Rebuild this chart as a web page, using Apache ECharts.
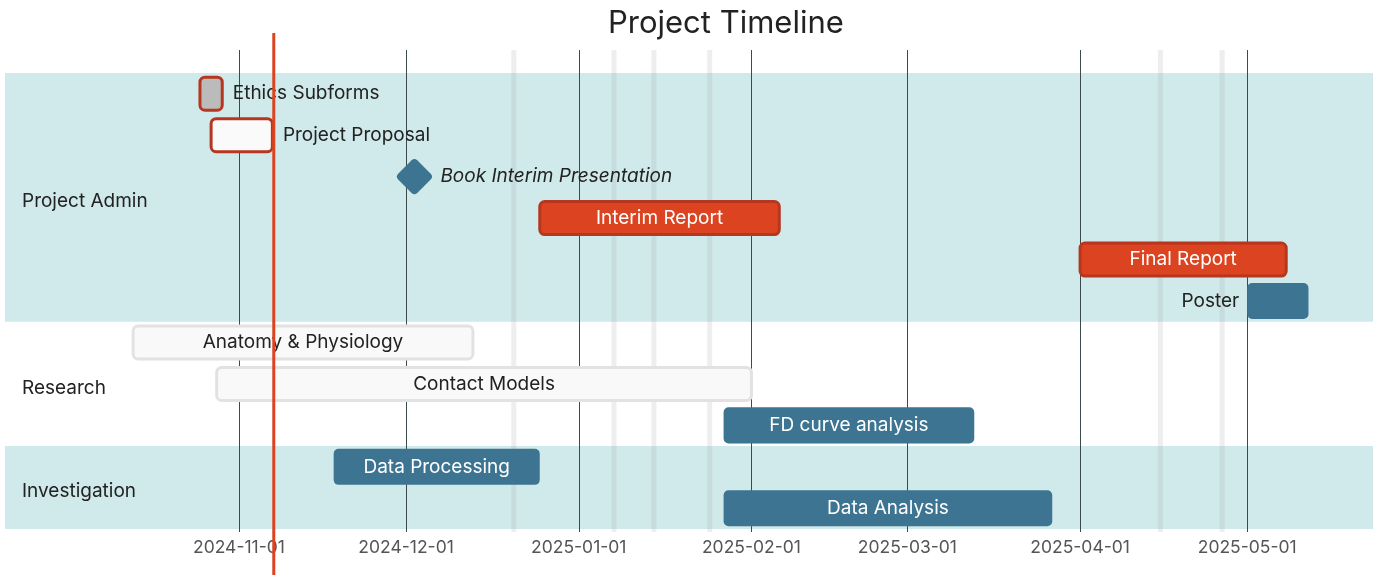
<!DOCTYPE html>
<html>
<head>
<meta charset="utf-8">
<script src="https://cdn.jsdelivr.net/npm/echarts@6/dist/echarts.min.js"></script>
<style>
html,body{margin:0;padding:0;background:#fff;}
#chart{width:1377px;height:582px;}
</style>
</head>
<body>
<div id="chart"></div>
<script>
// ---------- data ----------
const tasks = ['Ethics Subforms', 'Project Proposal', 'Book Interim Presentation', 'Interim Report', 'Final Report', 'Poster',
  'Anatomy & Physiology', 'Contact Models', 'FD curve analysis', 'Data Processing', 'Data Analysis'];
const taskStart = ['2024-10-25', '2024-10-27', '2024-12-02T12:00', '2024-12-25', '2025-04-01', '2025-05-01',
  '2024-10-13', '2024-10-28', '2025-01-27', '2024-11-18', '2025-01-27'];
const taskEnd = ['2024-10-29', '2024-11-07', '2024-12-02T12:00', '2025-02-06', '2025-05-08', '2025-05-12',
  '2024-12-13', '2025-02-01', '2025-03-13', '2024-12-25', '2025-03-27'];
const taskStatus = ['critDone', 'critActive', 'milestone', 'crit', 'crit', 'normal',
  'done', 'done', 'normal', 'normal', 'normal'];
const groupNames = ['Project Admin', 'Research', 'Investigation'];
const groupFirst = [0, 6, 9];
const groupLast = [5, 8, 10];
const monthTicks = ['2024-11-01', '2024-12-01', '2025-01-01', '2025-02-01', '2025-03-01', '2025-04-01', '2025-05-01'];
const excludedDays = ['2024-12-20T08:00', '2025-01-07T08:00', '2025-01-14T12:00', '2025-01-24T12:00', '2025-04-15T10:00', '2025-04-26T12:00'];
const todayMark = '2024-11-07T06:00';
const axisMin = '2024-09-20';
const axisMax = '2025-05-23T14:00';

// ---------- styles ----------
const FONT = 'Inter, "Noto Sans", sans-serif';
const LABEL_SIZE = 19;
const styles = {
  crit:       { fill: '#dc4321', stroke: '#b5371f', lw: 3, text: '#ffffff' },
  critDone:   { fill: '#bbbbbb', stroke: '#b5371f', lw: 3, text: '#222222' },
  critActive: { fill: '#fafafa', stroke: '#b5371f', lw: 3, text: '#222222' },
  done:       { fill: '#f9f9f9', stroke: '#e2e2e2', lw: 3, text: '#222222' },
  normal:     { fill: '#3d7491', stroke: null, lw: 0, text: '#ffffff' },
  milestone:  { fill: '#3d7491', stroke: null, lw: 0, text: '#222222' }
};
const ts = s => new Date(s).getTime();
const xMin = ts(axisMin), xMax = ts(axisMax);

const measureCtx = document.createElement('canvas').getContext('2d');
function textW(t, italic) {
  measureCtx.font = (italic ? 'italic ' : '') + LABEL_SIZE + 'px ' + FONT;
  return measureCtx.measureText(t).width;
}

const chart = echarts.init(document.getElementById('chart'), null, { renderer: 'canvas' });

const taskData = tasks.map((t, i) => [i, ts(taskStart[i]), ts(taskEnd[i])]);
const bandData = groupNames.map((g, i) => [groupFirst[i], groupLast[i]]);

const option = {
  animation: false,
  title: {
    text: 'Project Timeline',
    left: 603, top: 3,
    textStyle: { fontFamily: FONT, fontSize: 31, fontWeight: 'normal', color: '#222' }
  },
  grid: { left: 5, right: 4, top: 73, bottom: 53, containLabel: false },
  xAxis: {
    type: 'time', min: xMin, max: xMax,
    axisLine: { show: false }, axisTick: { show: false }, splitLine: { show: false },
    axisLabel: {
      customValues: monthTicks.map(ts),
      formatter: '{yyyy}-{MM}-{dd}',
      fontFamily: FONT, fontSize: 17.5, color: '#555', margin: 10,
      hideOverlap: false, showMinLabel: false, showMaxLabel: false
    }
  },
  yAxis: {
    type: 'category', data: tasks, inverse: true,
    axisLine: { show: false }, axisTick: { show: false }, axisLabel: { show: false }, splitLine: { show: false }
  },
  series: [
    {
      // group bands + group labels
      type: 'custom', z: 1, silent: true,
      data: bandData,
      encode: { y: [0, 1] },
      renderItem: (params, api) => {
        const cs = params.coordSys;
        const i = params.dataIndex;
        const bh = api.size([0, 1])[1];
        const y0 = api.coord([xMin, api.value(0)])[1] - bh / 2;
        const y1 = api.coord([xMin, api.value(1)])[1] + bh / 2;
        const children = [];
        if (i % 2 === 0) {
          children.push({ type: 'rect', shape: { x: cs.x, y: y0, width: cs.width, height: y1 - y0 },
            style: { fill: '#d0e9ea' } });
        }
        children.push({ type: 'text', z2: 50,
          style: { text: groupNames[i], x: cs.x + 17, y: (y0 + y1) / 2 + 4, verticalAlign: 'middle', align: 'left',
            font: LABEL_SIZE + 'px ' + FONT, fill: '#222' } });
        return { type: 'group', children };
      }
    },
    {
      // excluded days (gray stripes)
      type: 'custom', z: 2, silent: true,
      data: excludedDays.map(d => [ts(d)]),
      encode: { x: 0 },
      renderItem: (params, api) => {
        const cs = params.coordSys;
        const x = api.coord([api.value(0), 0])[0];
        return { type: 'line', shape: { x1: x, y1: cs.y - 23, x2: x, y2: cs.y + cs.height + 3 },
          style: { stroke: 'rgba(160,160,160,0.18)', lineWidth: 5 } };
      }
    },
    {
      // month grid lines
      type: 'custom', z: 3, silent: true,
      data: monthTicks.map(d => [ts(d)]),
      encode: { x: 0 },
      renderItem: (params, api) => {
        const cs = params.coordSys;
        const x = Math.round(api.coord([api.value(0), 0])[0]) + 0.5;
        return { type: 'line', shape: { x1: x, y1: cs.y - 23, x2: x, y2: cs.y + cs.height + 3 },
          style: { stroke: '#3c4a4e', lineWidth: 1 } };
      }
    },
    {
      // tasks
      type: 'custom', z: 4, silent: true,
      data: taskData,
      encode: { x: [1, 2], y: 0 },
      renderItem: (params, api) => {
        const cs = params.coordSys;
        const i = params.dataIndex;
        const row = api.value(0);
        const st = styles[taskStatus[i]];
        const bh = api.size([0, 1])[1];
        const p0 = api.coord([api.value(1), row]);
        const p1 = api.coord([api.value(2), row]);
        const cy = p0[1];
        const label = tasks[i];
        if (taskStatus[i] === 'milestone') {
          const s = 27;
          return { type: 'group', children: [
            { type: 'rect', x: p0[0], y: cy, rotation: Math.PI / 4,
              shape: { x: -s / 2, y: -s / 2, width: s, height: s, r: 4 },
              style: { fill: st.fill } },
            { type: 'text', style: { text: label, x: p0[0] + 26, y: cy, align: 'left', verticalAlign: 'middle',
              font: 'italic ' + LABEL_SIZE + 'px ' + FONT, fill: st.text } }
          ] };
        }
        const outerH = bh * 0.87;
        const h = outerH - st.lw;
        const x0 = p0[0], x1 = p1[0];
        const w = x1 - x0;
        const children = [{
          type: 'rect',
          shape: { x: x0, y: cy - h / 2, width: w, height: h, r: 5 },
          style: st.stroke ? { fill: st.fill, stroke: st.stroke, lineWidth: st.lw } : { fill: st.fill }
        }];
        const tw = textW(label);
        const outerL = x0 - st.lw / 2, outerR = x1 + st.lw / 2;
        let tx, align, fill;
        if (tw + 16 < w) { tx = (x0 + x1) / 2; align = 'center'; fill = st.text; }
        else if (outerR + 9 + tw + 20 < cs.x + cs.width) { tx = outerR + 9; align = 'left'; fill = '#222'; }
        else { tx = outerL - 8; align = 'right'; fill = '#222'; }
        children.push({ type: 'text', style: { text: label, x: tx, y: cy, align, verticalAlign: 'middle',
          font: LABEL_SIZE + 'px ' + FONT, fill } });
        return { type: 'group', children };
      }
    },
    {
      // today marker
      type: 'custom', z: 10, silent: true,
      data: [[ts(todayMark)]],
      encode: { x: 0 },
      renderItem: (params, api) => {
        const cs = params.coordSys;
        const x = api.coord([api.value(0), 0])[0];
        return { type: 'line', shape: { x1: x, y1: cs.y - 40, x2: x, y2: cs.y + cs.height + 46 },
          style: { stroke: '#dc4321', lineWidth: 3 } };
      }
    }
  ]
};
chart.setOption(option);
</script>
</body>
</html>
